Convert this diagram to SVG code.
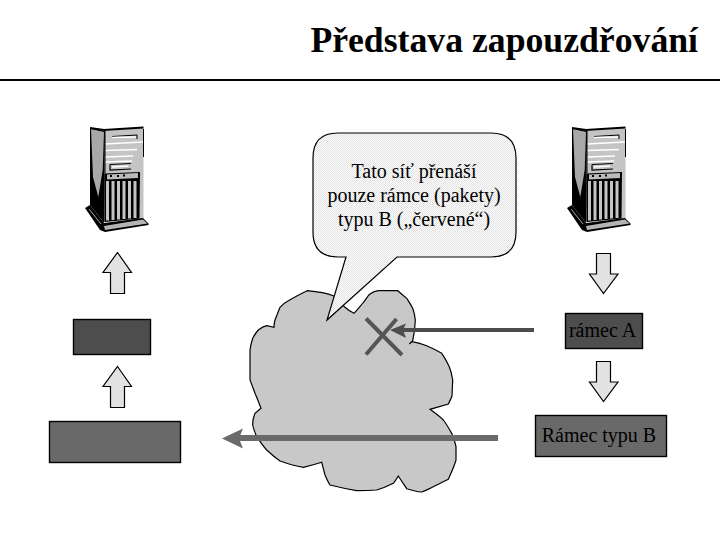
<svg xmlns="http://www.w3.org/2000/svg" xmlns:xlink="http://www.w3.org/1999/xlink" width="720" height="540" viewBox="0 0 720 540">
<style>
text{font-family:"Liberation Serif","Times New Roman",serif;fill:#000}
.t{font-size:20px;text-anchor:middle}
.bar{fill:#e2e2e2;stroke:#000;stroke-width:1.2}
</style>
<defs>
<pattern id="dith" width="2" height="2" patternUnits="userSpaceOnUse"><rect width="2" height="2" fill="#fff"/><rect width="1" height="1" fill="#e0e0e0"/><rect x="1" y="1" width="1" height="1" fill="#e0e0e0"/></pattern>
<symbol id="server" width="60" height="110" viewBox="0 0 60 110" overflow="visible">
<path d="M2 1 L17 4 L16 96 L2 78Z" fill="#000"/>
<path d="M3 2 L16 5 L14.7 43 L10.3 70 L5 50Z" fill="#a8a8a8"/>
<path d="M17 4 L55.5 1 L55.5 92 L17 95Z" fill="#c4c4c4"/>
<path d="M2 1 L16 3 L55.5 0.5" stroke="#000" stroke-width="2" fill="none"/>
<path d="M17 17 L55 15 M17 23.5 L49 22.5 M17 30 L45 29 M17 35 L44 34" stroke="#fff" stroke-width="1.3" fill="none"/>
<path d="M17 4 V46 M24 9.5 L49 8 V12 M55.5 2 V30" stroke="#000" stroke-width="1" fill="none"/>
<path d="M24 10.5 L48 10" stroke="#fff" stroke-width="1.5" fill="none"/>
<path d="M22 37.5 L43 36.5 M22 37.5 V43 L43 42" stroke="#000" stroke-width="1.2" fill="none"/>
<path d="M24 40 L40 39" stroke="#fff" stroke-width="1.5" fill="none"/>
<path d="M16.3 46.5 L52 45 L51.5 91.5 L16.3 95Z" fill="#000"/>
<path d="M19 47.5 L50 46 L50 51 L19 52.5Z" fill="#bbb"/>
<path d="M22 49 h2 M29 49 h2 M35 48.5 h2" stroke="#000" stroke-width="2" fill="none"/>
<path d="M19.5 54V93.5M25 54V93M30.5 54V92.5M36 54V92M41.5 54V91.5M47 54V91" stroke="#c4c4c4" stroke-width="3" fill="none"/>
<path d="M-3 81 L2 78 L16 96 L55 91 L60.5 96.5 L60.5 98 L17 105 L12 103Z" fill="#000"/>
<path d="M16 99 L55 92.5 L59.5 96.5 L17 103Z" fill="#b4b4b4"/>
<path d="M1 82 L13 97" stroke="#aaa" stroke-width="1" fill="none"/>
</symbol>
</defs>

<g id="title">
<text x="698" y="52" text-anchor="end" font-size="35.7" font-weight="bold">Představa zapouzdřování</text>
<rect x="0" y="79" width="720" height="2" fill="#000"/>
</g>

<g id="server-left"><use href="#server" xlink:href="#server" x="88" y="127" width="60" height="110"/></g>
<g id="server-right"><use href="#server" xlink:href="#server" x="570" y="127" width="60" height="110"/></g>

<g id="cloud">
<path d="M307.3 290.7 C316 291.5 326 293 334 296 L345 307.3 C348 310 351 312 354 313.3 C358 309 362 304 363.3 302.7 C366 299 368 295.5 370 294 C373 292 375.5 291 378.3 290.7 L397.7 290.7 C401 293.5 404 296 406.7 298.3 C409 302 411 305 412.7 308.3 C414 312 415 316 415.3 320 C415 326 414.5 330 414 333.3 L412.7 340.7 L409.3 344 L411.7 341.7 C417 342.5 422 344 426.7 345.7 C432 348 437 350.5 441.7 353.3 C445 358 447 362 449.3 366.7 C451 371 452 375.5 452.7 380 L452 396 C451 399 449.5 401.5 448.3 404 L430 409.3 C435 413 439.5 416 443.3 420 C446.5 424 449 428.5 451.7 433.3 C453.5 438 455 442 456 446.7 L456 460 C454 467 451 473 448.3 479.3 C444 481.5 440 483.5 436.7 485 C431 488 426 490.5 421.7 492 C416 491.5 411 490 406.7 488.7 L398.3 476 C396.5 479 395 481.5 393.3 483.3 C388 486 382 488.5 376.7 490 C370 490.5 363 490.7 356.7 490.7 C347 489 338 487 330 485 C328 482 326.5 478.5 325 475 L321.7 462.3 C315 464.5 309 466 303.3 467.3 C295 466 287 463.5 280 461 C275 457.5 271 454 266.7 450 C263 446 260 441.5 256.7 436.7 C255 433 253.5 429 252.7 425 C252.5 421 253.5 417 255 413.3 L261 408.3 C259 403 257 398 255 393.3 L250 380 L250 350 C250.5 346 251.5 342 252.7 338.3 C254.5 335 256 332.5 258.3 330 C261 328 263.5 326.5 266.7 325.7 L274 327.3 C274 324.5 274.5 322 275 320 L280 307.3 C282 305 284 303 286.7 301.7 C293 298 300 294 307.3 290.7Z" fill="#c8c8c8" stroke="#000" stroke-width="1.2"/>
</g>

<g id="callout">
<path d="M338 133 H491 Q516 133 516 158 V232 Q516 257 491 257 H397 L327 320 L346 257 H338 Q313 257 313 232 V158 Q313 133 338 133Z" fill="url(#dith)" stroke="#000" stroke-width="1.2"/>
<text class="t" x="414" y="178">Tato síť přenáší</text>
<text class="t" x="414" y="202">pouze rámce (pakety)</text>
<text class="t" x="414" y="226">typu B („červené“)</text>
</g>

<g id="frame-left-top"><rect x="73.5" y="319.5" width="77" height="35" fill="#4d4d4d" stroke="#000" stroke-width="1.4"/></g>
<g id="frame-left-bottom"><rect x="49.5" y="421.5" width="131" height="41" fill="#696969" stroke="#000" stroke-width="1.4"/></g>
<g id="frame-a"><rect x="565.5" y="313.5" width="77" height="35" fill="#4d4d4d" stroke="#000" stroke-width="1.4"/>
<text class="t" x="602.5" y="337">rámec A</text></g>
<g id="frame-b"><rect x="535.5" y="415.5" width="131" height="41" fill="#696969" stroke="#000" stroke-width="1.4"/>
<text class="t" x="599" y="442">Rámec typu B</text></g>

<g id="connectors">
<path class="bar" d="M117.5 252.5 L131.5 272.5 H124.5 V293.5 H110.5 V272.5 H103Z"/>
<path class="bar" d="M117.5 366.5 L131.5 386.5 H124.5 V407.5 H110.5 V386.5 H103Z"/>
<path class="bar" d="M596.5 253.5 H610.5 V274 H618 L603.5 293.5 L589.5 274 H596.5Z"/>
<path class="bar" d="M596.5 361.5 H610.5 V382 H618 L603.5 401.5 L589.5 382 H596.5Z"/>
<path d="M366 318.5 L402 355 M366 354.5 L396.5 319" stroke="#555" stroke-width="4" fill="none"/>
<path d="M534 330 H402" stroke="#4d4d4d" stroke-width="4" fill="none"/>
<path d="M390 330 L406 323.5 L403 330 L406 338Z" fill="#4d4d4d"/>
<path d="M498 438 H238" stroke="#6a6a6a" stroke-width="6" fill="none"/>
<path d="M222 438.5 L243 428.5 L239 438.5 L243 448.5Z" fill="#6a6a6a"/>
</g>
</svg>
